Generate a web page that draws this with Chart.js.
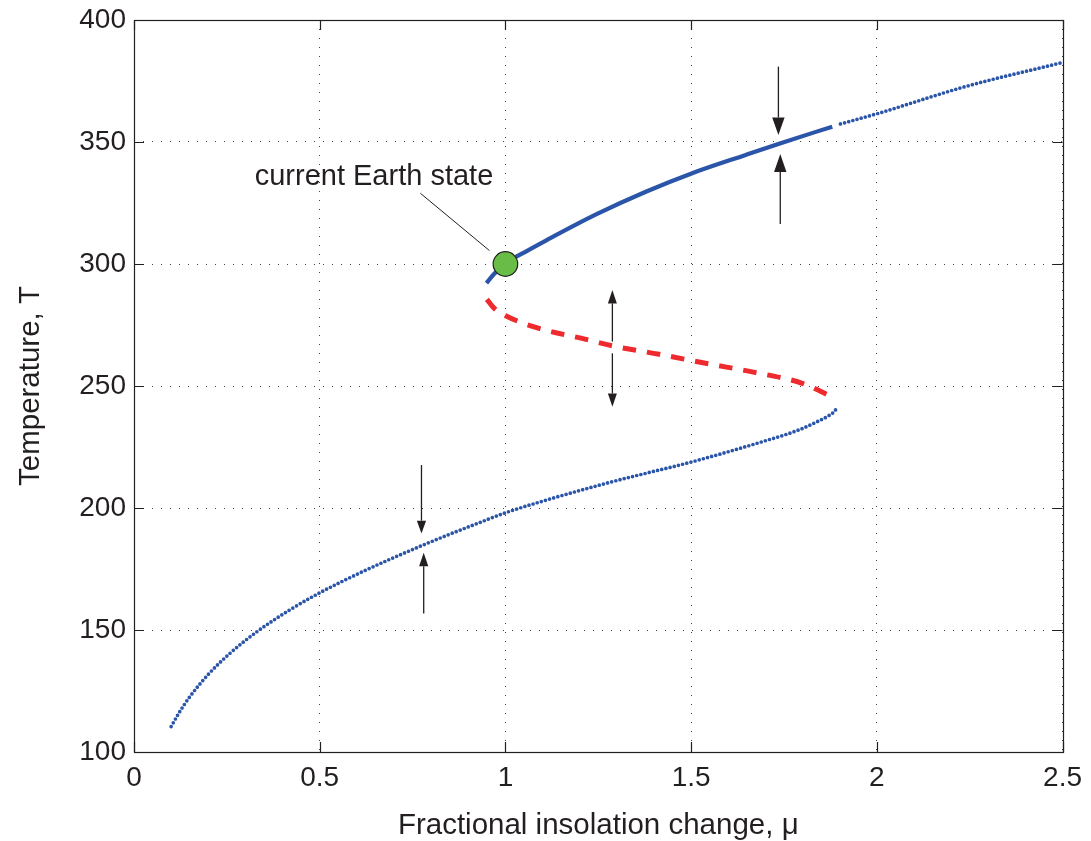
<!DOCTYPE html>
<html><head><meta charset="utf-8">
<script src="https://cdn.jsdelivr.net/npm/chart.js@4.4.1/dist/chart.umd.min.js"></script>
<style>html,body{margin:0;padding:0;background:#fff;} #wrap{width:1091px;height:841px;}</style>
</head><body><div id="wrap"><canvas id="c" width="1091" height="841"></canvas></div>
<script>
// ---- data ----
const xTicks = [0, 0.5, 1, 1.5, 2, 2.5];
const yTicks = [100, 150, 200, 250, 300, 350, 400];

// lower stable branch (dotted blue)
const lowerMu = [0.100, 0.121, 0.150, 0.200, 0.258, 0.330, 0.419, 0.502, 0.625, 0.778, 0.849, 0.930, 1.001, 1.109, 1.288, 1.504, 1.692, 1.790, 1.845, 1.872, 1.888, 1.893];
const lowerT  = [110.4, 116.0, 122.6, 131.8, 140.4, 149.2, 158.2, 165.4, 174.6, 184.8, 189.2, 194.0, 198.1, 203.2, 210.8, 219.0, 227.2, 232.0, 235.8, 238.0, 240.0, 241.5];

// unstable branch (red dashed)
const redMu = [0.950, 0.970, 1.002, 1.082, 1.217, 1.289, 1.414, 1.539, 1.674, 1.799, 1.875];
const redT  = [285.5, 281.8, 278.7, 274.0, 269.1, 266.4, 263.0, 259.3, 255.5, 251.1, 245.9];

// upper stable branch, solid part
const upperMu = [0.949, 0.970, 1.001, 1.055, 1.109, 1.244, 1.378, 1.503, 1.647, 1.741, 1.880];
const upperT  = [292.2, 296.0, 300.3, 305.1, 309.6, 320.3, 329.6, 337.2, 344.7, 349.5, 356.3];

// upper stable branch, dotted part
const upperDotMu = [1.902, 2.005, 2.238, 2.500];
const upperDotT  = [357.4, 361.8, 372.7, 382.6];

// current Earth state
const earthMu = [1.0];
const earthT  = [300];

// stability arrows: x, start T, tip T, head size (px)
const arrowMu    = [0.774, 0.780, 1.735, 1.740, 1.288, 1.288];
const arrowFromT = [217.6, 156.8, 380.9, 316.4, 268.2, 263.4];
const arrowToT   = [189.6, 181.7, 352.9, 345.1, 289.3, 241.5];
const arrowHeadL = [12.7, 13.5, 17.5, 18.0, 13.3, 13.3];
const arrowHeadW = [4.6, 4.6, 6.2, 6.2, 4.5, 4.5];

// annotation
const annotText = 'current Earth state';
const annotMu = 0.325, annotT = 335.7;
const leaderMu = [0.771, 0.957];
const leaderT  = [329.0, 305.5];

const INK = '#231f20';
const BLUE = '#2b55a8';
const RED = '#ee2a2e';
const FONT = "'Liberation Sans', Arial, Helvetica, sans-serif";

const pts = (xs, ys) => xs.map((x, i) => ({x, y: ys[i]}));

const framePlugin = {
  id: 'frame',
  afterDatasetsDraw(chart) {
    const ctx = chart.ctx, a = chart.chartArea;
    const xs = chart.scales.x, ys = chart.scales.y;
    ctx.save();
    ctx.strokeStyle = INK; ctx.lineWidth = 1.2;
    ctx.strokeRect(Math.round(a.left) + 0.5, Math.round(a.top) + 0.5, Math.round(a.right - a.left), Math.round(a.bottom - a.top));
    ctx.beginPath();
    const tl = 10;
    xTicks.forEach(v => {
      const px = Math.round(xs.getPixelForValue(v)) + 0.5;
      ctx.moveTo(px, a.bottom); ctx.lineTo(px, a.bottom - tl);
      ctx.moveTo(px, a.top); ctx.lineTo(px, a.top + tl);
    });
    yTicks.forEach(v => {
      const py = Math.round(ys.getPixelForValue(v)) + 0.5;
      ctx.moveTo(a.left, py); ctx.lineTo(a.left + tl, py);
      ctx.moveTo(a.right, py); ctx.lineTo(a.right - tl, py);
    });
    ctx.stroke();

    // arrows
    ctx.fillStyle = INK; ctx.lineWidth = 1.3;
    arrowMu.forEach((m, i) => {
      const px = xs.getPixelForValue(m);
      const y0 = ys.getPixelForValue(arrowFromT[i]);
      const y1 = ys.getPixelForValue(arrowToT[i]);
      const dir = Math.sign(y1 - y0);
      const L = arrowHeadL[i], W = arrowHeadW[i];
      ctx.beginPath();
      ctx.moveTo(px, y0); ctx.lineTo(px, y1 - dir * L);
      ctx.stroke();
      ctx.beginPath();
      ctx.moveTo(px, y1);
      ctx.lineTo(px - W, y1 - dir * L);
      ctx.lineTo(px + W, y1 - dir * L);
      ctx.closePath(); ctx.fill();
    });

    // leader line
    ctx.lineWidth = 1;
    ctx.beginPath();
    ctx.moveTo(xs.getPixelForValue(leaderMu[0]), ys.getPixelForValue(leaderT[0]));
    ctx.lineTo(xs.getPixelForValue(leaderMu[1]), ys.getPixelForValue(leaderT[1]));
    ctx.stroke();

    // annotation text
    ctx.font = '29px ' + FONT;
    ctx.textBaseline = 'middle'; ctx.textAlign = 'left';
    ctx.fillText(annotText, xs.getPixelForValue(annotMu), ys.getPixelForValue(annotT));
    ctx.restore();
  }
};

new Chart(document.getElementById('c'), {
  type: 'scatter',
  data: {
    datasets: [
      { label: 'Earth', data: pts(earthMu, earthT), showLine: false,
        pointRadius: 12.3, pointBackgroundColor: '#67bd45', pointBorderColor: INK, pointBorderWidth: 1.2 },
      { label: 'upper', data: pts(upperMu, upperT), showLine: true, pointRadius: 0,
        borderColor: BLUE, borderWidth: 4.2, cubicInterpolationMode: 'monotone', borderCapStyle: 'butt' },
      { label: 'upperDot', data: pts(upperDotMu, upperDotT), showLine: true, pointRadius: 0,
        borderColor: BLUE, borderWidth: 3.7, borderDash: [0, 4.3], borderCapStyle: 'round', cubicInterpolationMode: 'monotone' },
      { label: 'unstable', data: pts(redMu, redT), showLine: true, pointRadius: 0,
        borderColor: RED, borderWidth: 5, borderDash: [13.5, 11], borderCapStyle: 'butt', cubicInterpolationMode: 'monotone' },
      { label: 'lower', data: pts(lowerMu, lowerT), showLine: true, pointRadius: 0,
        borderColor: BLUE, borderWidth: 3.7, borderDash: [0, 4.3], borderCapStyle: 'round', cubicInterpolationMode: 'monotone' }
    ]
  },
  options: {
    responsive: false, animation: false, events: [],
    layout: { padding: { top: 20, right: 27, bottom: 0, left: 0 } },
    plugins: { legend: { display: false }, tooltip: { enabled: false } },
    scales: {
      x: {
        type: 'linear', min: 0, max: 2.5,
        afterBuildTicks: s => { s.ticks = xTicks.map(v => ({ value: v })); },
        afterFit: s => { s.height = 89; },
        grid: { color: '#444', lineWidth: 1, drawTicks: false },
        border: { display: false, dash: [1, 8] },
        ticks: { color: INK, font: { family: FONT, size: 28 }, padding: 9, maxRotation: 0,
                 callback: v => String(v) },
        title: { display: true, text: 'Fractional insolation change, μ', color: INK,
                 font: { family: FONT, size: 29.5, lineHeight: 1 }, padding: { top: 0, bottom: 0 } }
      },
      y: {
        type: 'linear', min: 100, max: 400,
        afterBuildTicks: s => { s.ticks = yTicks.map(v => ({ value: v })); },
        afterFit: s => { s.width = 134; },
        grid: { color: '#444', lineWidth: 1, drawTicks: false },
        border: { display: false, dash: [1, 8] },
        ticks: { color: INK, font: { family: FONT, size: 28, lineHeight: 0.8 }, padding: 8,
                 callback: v => String(v) },
        title: { display: true, text: 'Temperature, T', color: INK,
                 font: { family: FONT, size: 29.5, lineHeight: 1 }, padding: { top: 16, bottom: 0 } }
      }
    }
  },
  plugins: [framePlugin]
});
</script>
</body></html>
